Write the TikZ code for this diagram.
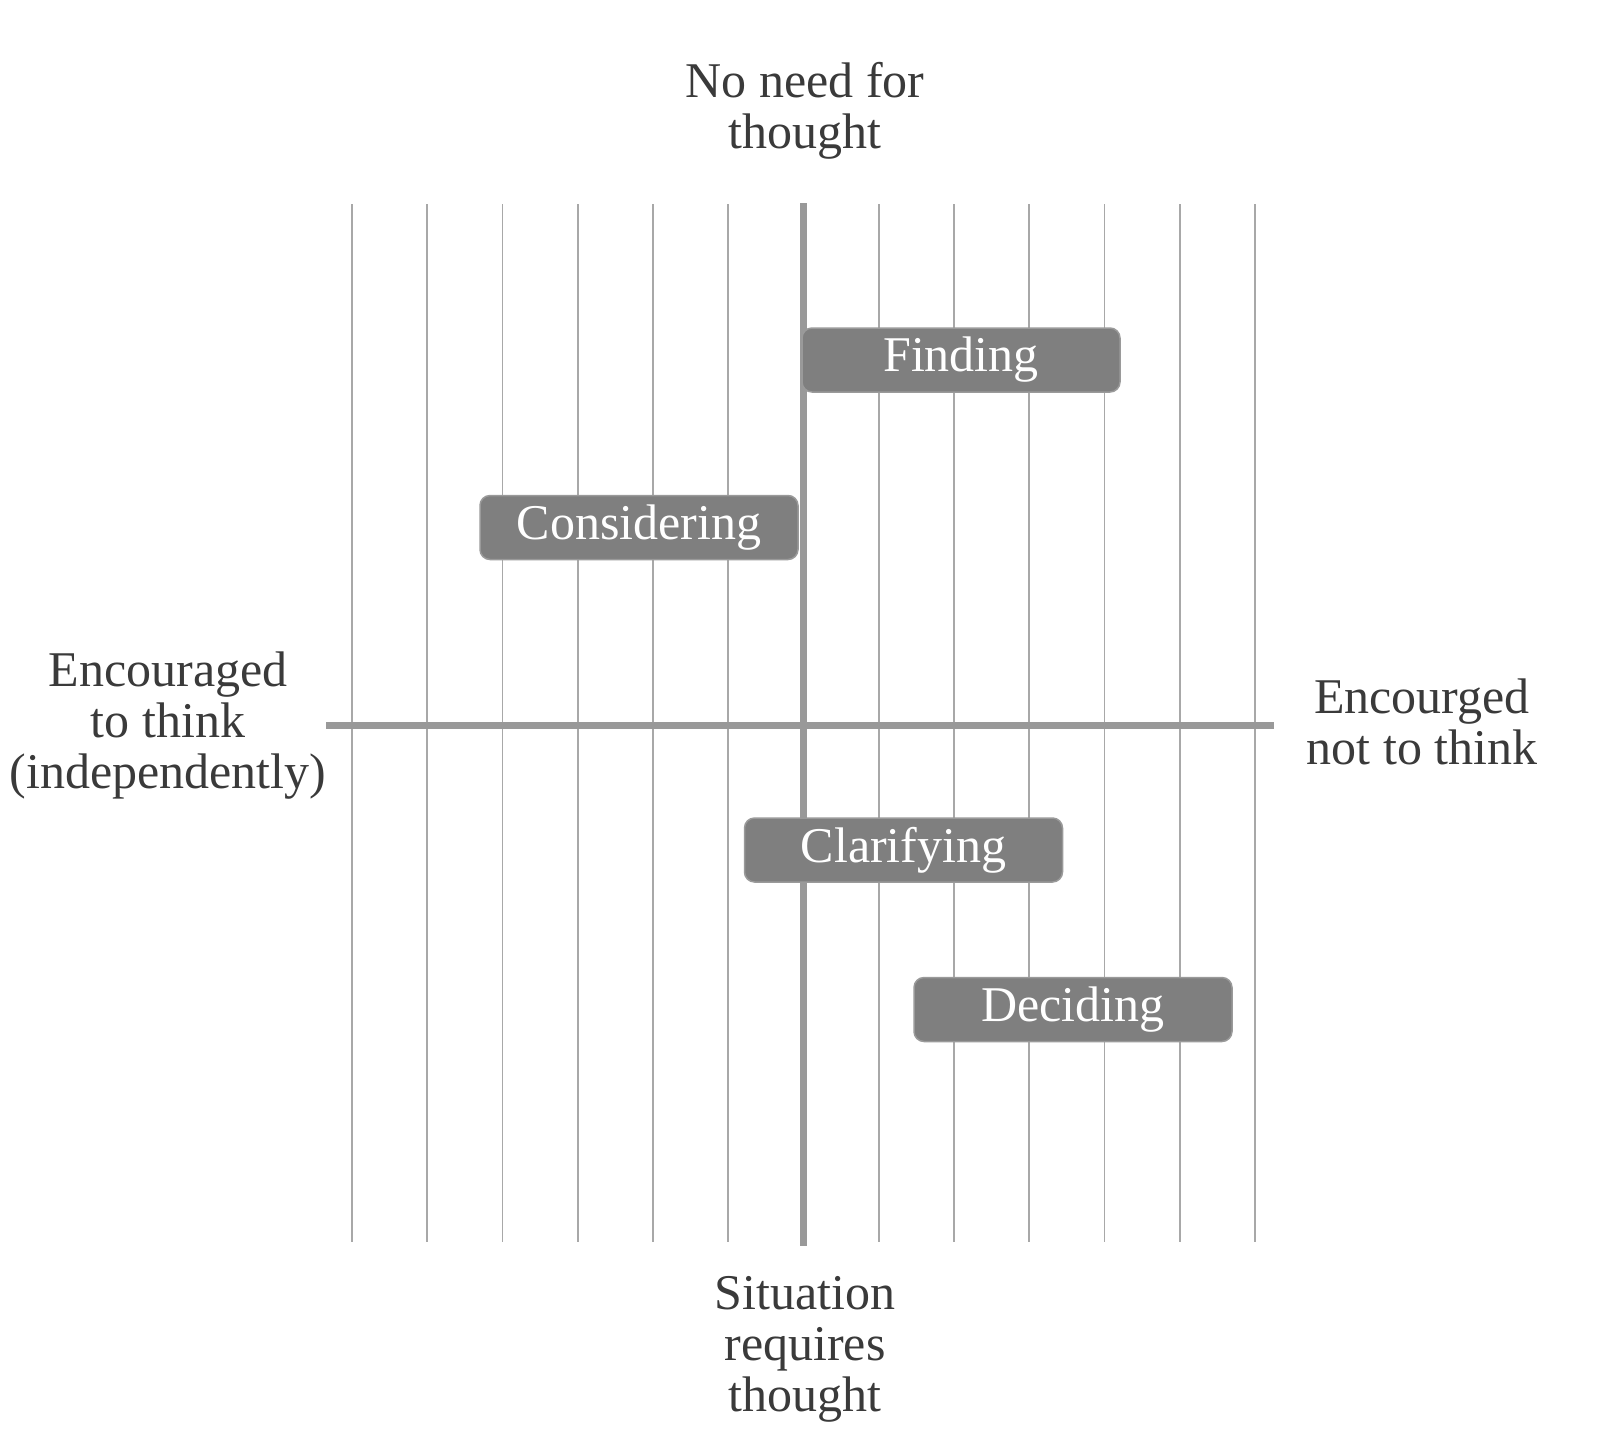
\documentclass[tikz,border=0pt]{standalone}
\usepackage{fontspec}
\setmainfont{Liberation Serif}
\definecolor{txt}{HTML}{3A3A3A}
\definecolor{axis}{HTML}{999999}
\definecolor{grid}{HTML}{A8A8A8}
\definecolor{boxfill}{HTML}{7F7F7F}
\definecolor{boxline}{HTML}{9A9A9A}
\newcommand{\tagtext}[1]{\raisebox{-3pt}{#1}}
\begin{document}
\begin{tikzpicture}[x=1pt,y=-1pt,
  lbl/.style={text=txt,font=\fontsize{50}{51}\selectfont,align=center,inner sep=0pt},
  tag/.style={draw=boxline,line width=1.5pt,fill=boxfill,rounded corners=10pt,
    minimum width=318pt,minimum height=64pt,inner sep=0pt,text=white,
    font=\fontsize{50}{51}\selectfont},
  gridline/.style={draw=grid,line width=1.6pt},
  axisline/.style={draw=axis,line width=7pt}]
\useasboundingbox (0,0) rectangle (1600,1446);
% grid
\foreach \k in {0,...,12}{
  \pgfmathsetmacro{\xx}{352+75.25*\k}
  \coordinate (gt\k) at (\xx,204);
  \coordinate (gb\k) at (\xx,1242);
  \draw[gridline] (gt\k) -- (gb\k);
}
% axes
\coordinate (vt) at (803,203);
\coordinate (vb) at (803,1246);
\coordinate (hl) at (326,725);
\coordinate (hr) at (1274,725);
\draw[axisline] (vt) -- (vb);
\draw[axisline] (hl) -- (hr);
% boxes
\node[tag] (finding) at (961,360) {\tagtext{Finding}};
\node[tag] (considering) at (639,527.5) {\tagtext{Considering}};
\node[tag] (clarifying) at (903.5,850) {\tagtext{Clarifying}};
\node[tag] (deciding) at (1073,1009.5) {\tagtext{Deciding}};
% labels
\node[lbl] (top) at (805,111) {No need for\\thought};
\node[lbl] (bottom) at (805,1349) {Situation\\requires\\thought};
\node[lbl] (left) at (168,726) {Encouraged\\to think\\(independently)};
\node[lbl] (right) at (1422,722) {Encourged\\not to think};
\end{tikzpicture}
\end{document}
